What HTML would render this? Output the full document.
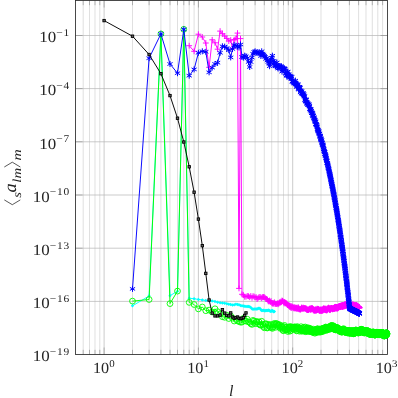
<!DOCTYPE html>
<html><head><meta charset="utf-8"><title>plot</title><style>html,body{margin:0;padding:0;background:#fff;}svg{display:block;will-change:transform;}.fs{text-rendering:geometricPrecision;font-family:"Liberation Serif",serif;}</style></head><body>
<svg width="398" height="398" viewBox="0 0 398 398">
<rect width="398" height="398" fill="#fff"/>
<defs>
<marker id="mb" markerUnits="userSpaceOnUse" markerWidth="8" markerHeight="8" refX="4" refY="4" viewBox="0 0 8 8"><path d="M4 1V7M1.4 2.5L6.6 5.5M1.4 5.5L6.6 2.5" stroke="#0000ff" stroke-width="1" fill="none"/></marker>
<marker id="mg" markerUnits="userSpaceOnUse" markerWidth="9" markerHeight="9" refX="4.5" refY="4.5" viewBox="0 0 9 9"><circle cx="4.5" cy="4.5" r="2.9" stroke="#00ff00" stroke-width="0.9" fill="none"/></marker>
<marker id="mm" markerUnits="userSpaceOnUse" markerWidth="8" markerHeight="8" refX="4" refY="4" viewBox="0 0 8 8"><path d="M4 1.1V6.9M1.1 4H6.9" stroke="#ff00ff" stroke-width="0.95" fill="none"/></marker>
<marker id="mk" markerUnits="userSpaceOnUse" markerWidth="6" markerHeight="6" refX="3" refY="3" viewBox="0 0 6 6"><rect x="1.8" y="1.8" width="2.4" height="2.4" stroke="#000" stroke-width="0.9" fill="#666"/></marker>
<marker id="mc" markerUnits="userSpaceOnUse" markerWidth="6" markerHeight="6" refX="3" refY="3" viewBox="0 0 6 6"><path d="M3 1.25L4.65 3L3 4.75L1.35 3Z" fill="#00ffff"/></marker>
</defs>
<path d="M83.2 0.5V354.5M89.5 0.5V354.5M95 0.5V354.5M99.8 0.5V354.5M132.5 0.5V354.5M149.1 0.5V354.5M160.9 0.5V354.5M170 0.5V354.5M177.5 0.5V354.5M183.8 0.5V354.5M189.2 0.5V354.5M194.1 0.5V354.5M226.8 0.5V354.5M243.4 0.5V354.5M255.1 0.5V354.5M264.3 0.5V354.5M271.7 0.5V354.5M278.1 0.5V354.5M283.5 0.5V354.5M288.3 0.5V354.5M321 0.5V354.5M337.6 0.5V354.5M349.4 0.5V354.5M358.6 0.5V354.5M366 0.5V354.5M372.3 0.5V354.5M377.8 0.5V354.5M382.6 0.5V354.5" stroke="#d2d2d2" stroke-width="0.7" fill="none"/>
<path d="M104.1 0.5V354.5M198.4 0.5V354.5M292.7 0.5V354.5M75.5 35.5H387.5M75.5 88.6H387.5M75.5 141.8H387.5M75.5 195H387.5M75.5 248.2H387.5M75.5 301.4H387.5" stroke="#b4b4b4" stroke-width="0.7" fill="none"/>
<path d="M83.2 0.5v4.7M83.2 354.5v-4.7M89.5 0.5v4.7M89.5 354.5v-4.7M95 0.5v4.7M95 354.5v-4.7M99.8 0.5v4.7M99.8 354.5v-4.7M132.5 0.5v4.7M132.5 354.5v-4.7M149.1 0.5v4.7M149.1 354.5v-4.7M160.9 0.5v4.7M160.9 354.5v-4.7M170 0.5v4.7M170 354.5v-4.7M177.5 0.5v4.7M177.5 354.5v-4.7M183.8 0.5v4.7M183.8 354.5v-4.7M189.2 0.5v4.7M189.2 354.5v-4.7M194.1 0.5v4.7M194.1 354.5v-4.7M226.8 0.5v4.7M226.8 354.5v-4.7M243.4 0.5v4.7M243.4 354.5v-4.7M255.1 0.5v4.7M255.1 354.5v-4.7M264.3 0.5v4.7M264.3 354.5v-4.7M271.7 0.5v4.7M271.7 354.5v-4.7M278.1 0.5v4.7M278.1 354.5v-4.7M283.5 0.5v4.7M283.5 354.5v-4.7M288.3 0.5v4.7M288.3 354.5v-4.7M321 0.5v4.7M321 354.5v-4.7M337.6 0.5v4.7M337.6 354.5v-4.7M349.4 0.5v4.7M349.4 354.5v-4.7M358.6 0.5v4.7M358.6 354.5v-4.7M366 0.5v4.7M366 354.5v-4.7M372.3 0.5v4.7M372.3 354.5v-4.7M377.8 0.5v4.7M377.8 354.5v-4.7M382.6 0.5v4.7M382.6 354.5v-4.7M104.1 0.5v7M104.1 354.5v-7M198.4 0.5v7M198.4 354.5v-7M292.7 0.5v7M292.7 354.5v-7M75.5 35.5h7M387.5 35.5h-7M75.5 88.6h7M387.5 88.6h-7M75.5 141.8h7M387.5 141.8h-7M75.5 195h7M387.5 195h-7M75.5 248.2h7M387.5 248.2h-7M75.5 301.4h7M387.5 301.4h-7" stroke="#7a7a7a" stroke-width="0.5" fill="none"/>
<rect x="75.5" y="0.5" width="312" height="354" fill="none" stroke="#2a2a2a" stroke-width="0.85"/>
<polyline points="132.5,305.8 149.1,296 160.9,33.9 170,295.7 177.5,291.2 183.8,29.3 189.2,298.2 194.1,298.8 198.4,299.4 202.3,299.9 205.8,300.5 209.1,300.8 212.2,301 215,301.4 217.6,302.2 220.1,302.7 222.4,302.9 224.7,303.2 226.8,303.8 228.8,304.2 230.7,304.5 232.5,304.9 234.2,304.7 235.9,304.3 237.5,304.4 239,304.7 240.5,305.5 242,305.8 243.4,306 244.7,306.3 246,306.4 247.3,306.5 248.5,306.5 249.7,306.8 250.8,307.6 252,308.7 253,309.2 254.1,309 255.1,309 256.2,309 257.1,309 258.1,308.6 259,308.2 260,308.6 260.9,309.7 261.7,310.5 262.6,310.4 263.5,310.3 264.3,310.7 265.1,310.7 265.9,310.5 266.7,310.5 267.4,310.4 268.2,310.2 268.9,310.3 269.6,310.7 270.4,311.2 271.1,311.3 271.7,310.8 272.4,310.6 273.1,311.2 273.7,311.7 274.4,311.5" fill="none" stroke="#00ffff" stroke-width="0.95" stroke-linejoin="round" marker-start="url(#mc)" marker-mid="url(#mc)" marker-end="url(#mc)"/>
<polyline points="132.5,301.1 149.1,299.5 160.9,33.9 170,303.6 177.5,291.1 183.8,29.3 189.2,302.4 194.1,304.5 198.4,308.9 202.3,307 205.8,310.7 209.1,310.1 212.2,312 215,308.8 217.6,311.7 220.1,313.9 222.4,316.7 224.7,317.3 226.8,315.3 228.8,318.5 230.7,316 232.5,318.1 234.2,321 235.9,319.4 237.5,320.7 239,321.5 240.5,322.2 242,322.1 243.4,318.4 244.7,320.7 246,321.1 247.3,319.2 248.5,321.9 249.7,322.4 250.8,323.7 252,324.4 253,320.4 254.1,321.1 255.1,323.6 256.2,321.5 257.1,321.9 258.1,323.8 259,321.8 260,324.9 260.9,325.2 261.7,321.3 262.6,324.3 263.5,326.5 264.3,327.8 265.1,324.1 265.9,323.7 266.7,327.7 267.4,328 268.2,324.3 268.9,325.4 269.6,326.5 270.4,327.3 271.1,324.5 271.7,327.6 272.4,328.4 273.1,327 273.7,324.5 274.4,323.4 275,324.5 275.6,327.3 276.3,323.5 276.9,323.9 277.5,326.2 278.1,324.7 278.6,325.2 279.2,324.6 279.8,327.4 280.3,328.4 280.9,327.1 281.4,325.7 282,326.8 282.5,328.3 283,330.3 283.5,330.7 284,326.7 284.5,325.4 285,329.5 285.5,329.9 286,327.4 286.5,328.9 287,330.1 287.4,329.4 287.9,331.5 288.3,327 288.8,328 289.2,327.7 289.7,326.8 290.1,331.1 290.6,326.7 291,330.3 291.4,327 291.8,328.4 292.2,328.6 292.7,327.2 293.1,328.8 293.5,328.6 293.9,327.3 294.3,329.5 294.7,326.8 295,327.2 295.4,328.3 295.8,328.3 296.2,327.3 296.6,330.9 296.9,330.3 297.3,326.6 297.7,328.2 298,327.7 298.4,329 298.7,328.1 299.1,329.1 299.4,331.2 299.8,328.2 300.1,329.5 300.5,329.3 300.8,330.2 301.1,326.7 301.5,330.2 301.8,331.3 302.1,329.7 302.4,328.2 302.8,330.2 303.1,330.5 303.4,330 303.7,327.3 304,331.1 304.3,330.7 304.6,328.2 304.9,329.3 305.3,327 305.6,331.7 305.8,331.2 306.1,330.5 306.4,331 306.7,328.3 307,328.8 307.3,328.4 307.6,330 307.9,327.8 308.2,331.5 308.4,329.6 308.7,329.6 309,328.1 309.3,330.7 309.5,331.3 309.8,330.5 310.1,328.9 310.3,331.2 310.6,328.6 310.9,331.6 311.1,330.7 311.4,329.6 311.6,330.6 311.9,331.2 312.2,329.8 312.4,332.2 312.7,330.4 312.9,332.4 313.2,332.1 313.4,329.2 313.7,331.5 313.9,330.3 314.1,332.2 314.4,331.5 314.6,331.4 314.9,333.2 315.1,330 315.3,331.8 315.6,330.8 315.8,329.5 316,332.1 316.3,331.2 316.5,332.3 316.7,331.1 317,330 317.2,332.3 317.4,329 317.6,328.7 317.8,331.1 318.1,329.8 318.3,329.8 318.5,331.7 318.7,329.8 318.9,331.9 319.2,331.1 319.4,330 319.6,329.1 319.8,329.7 320,332.2 320.2,330.2 320.4,329.3 320.6,329.8 320.8,331.7 321,329.2 321.2,331.2 321.4,329.1 321.7,331.7 321.9,330.3 322.1,328.6 322.3,331.5 322.4,329.6 322.6,330.7 322.8,330 323,328.6 323.2,328.6 323.4,328.7 323.6,328.7 323.8,328.4 324,328.3 324.2,330.9 324.4,328.1 324.6,329.2 324.8,327.9 324.9,328 325.1,329.5 325.3,329.8 325.5,328.3 325.7,327 325.9,330 326,327.3 326.2,328.4 326.4,328.9 326.6,330 326.8,329.9 326.9,329.3 327.1,328.7 327.3,329.8 327.5,329.8 327.6,329.7 327.8,329.1 328,327.1 328.2,327.6 328.3,328 328.5,327.9 328.7,328.9 328.8,327.1 329,328.4 329.2,327.5 329.4,328.7 329.5,327 329.7,327.8 329.8,326.7 330,327 330.2,329.1 330.3,327.1 330.5,328.7 330.7,327.5 330.8,326 331,328.1 331.1,325.8 331.3,328 331.5,325.5 331.6,327.4 331.8,325.9 331.9,326.4 332.1,328.2 332.3,326.8 332.4,327.2 332.6,327.4 332.7,325.6 332.9,327.7 333,327.9 333.2,325.9 333.3,327.2 333.5,326.6 333.6,328.1 333.8,326.2 333.9,327.8 334.1,328.9 334.2,328.9 334.4,327.2 334.5,329.5 334.7,327.8 334.8,329.5 335,328.6 335.1,327.6 335.3,329.3 335.4,329.5 335.5,329.2 335.7,330 335.8,328 336,328 336.1,327.7 336.3,328.8 336.4,328.4 336.5,328.3 336.7,328.6 336.8,328.1 337,327.3 337.1,328.7 337.2,328.1 337.4,328.6 337.5,330 337.6,327.9 337.8,329.2 337.9,329.3 338.1,328.3 338.2,328.8 338.3,330.3 338.5,328.6 338.6,329.7 338.7,330.1 338.9,328.7 339,330.6 339.1,329.6 339.2,329.4 339.4,330.1 339.5,329.4 339.6,330.4 339.8,329.2 339.9,331.2 340,330.2 340.2,329.5 340.3,330.2 340.4,331.6 340.5,331.4 340.7,330.5 340.8,330.2 340.9,330.3 341,332 341.2,329.5 341.3,331.8 341.4,331.7 341.5,329.9 341.7,330.3 341.8,330.9 341.9,331.6 342,332 342.2,332.1 342.3,330 342.4,329.6 342.5,330.4 342.6,330.5 342.8,330.7 342.9,329.1 343,330.5 343.1,331.2 343.2,331.2 343.4,331.2 343.5,331 343.6,331.2 343.7,328.7 343.8,331.3 344,329.6 344.1,329.8 344.2,330.3 344.3,331.8 344.4,330.9 344.5,330.3 344.7,330.5 344.8,332.1 344.9,332 345,330.1 345.1,330.5 345.2,330.8 345.3,330.4 345.4,331.4 345.6,330.5 345.7,331.5 345.8,332.5 345.9,332.3 346,330.2 346.1,330.5 346.2,331.1 346.3,331.8 346.5,331 346.6,330.7 346.7,331 346.8,330.6 346.9,332.5 347,332.1 347.1,331.3 347.2,332.1 347.3,331.7 347.4,331.7 347.5,331.3 347.6,331.7 347.8,333.1 347.9,332.6 348,332.7 348.1,330.7 348.2,331.8 348.3,331.5 348.4,330.7 348.5,331.6 348.6,330.7 348.7,331.2 348.8,332.8 348.9,332.5 349,332.5 349.1,330.8 349.2,331 349.3,330.6 349.4,330.8 349.5,330.8 349.6,333.2 349.7,333 349.8,331.1 349.9,331.2 350,333.2 350.1,332.1 350.2,331.5 350.3,331.8 350.4,331.3 350.5,332.2 350.6,332.5 350.7,332 350.8,332.8 350.9,330.8 351,332.2 351.1,333.3 351.2,330.9 351.3,331.9 351.4,332.3 351.5,331.5 351.6,333.2 351.7,331.9 351.8,331.8 351.9,333 352,330.5 352.1,332.9 352.2,330.9 352.3,331.5 352.4,331.8 352.5,331.8 352.6,330.6 352.7,331.4 352.8,331.6 352.9,333.3 353,333.2 353,332.4 353.1,333.4 353.2,333.2 353.3,331.9 353.4,331.2 353.5,332.6 353.6,331.9 353.7,331 353.8,333.8 353.9,333.8 354,332.6 354.1,332.8 354.2,332.9 354.2,333.5 354.3,332.2 354.4,332.4 354.5,331.3 354.6,331.3 354.7,332 354.8,331.1 354.9,330.5 355,331.3 355.1,332.3 355.1,330.9 355.2,332.4 355.3,331.9 355.4,331.7 355.5,332.3 355.6,330.1 355.7,330.4 355.8,332.4 355.9,332.4 355.9,330.2 356,332.1 356.1,330 356.2,330.4 356.3,330.4 356.4,330.9 356.5,331.2 356.5,332.6 356.6,331.4 356.7,330.5 356.8,331 356.9,330.2 357,330.3 357.1,331.5 357.1,331.7 357.2,331 357.3,331.4 357.4,330.6 357.5,332.2 357.6,331.4 357.6,330.8 357.7,331.8 357.8,331 357.9,331.2 358,330.8 358.1,332.6 358.1,331.2 358.2,333.1 358.3,331.6 358.4,330.9 358.5,332.4 358.6,332.4 358.6,332.8 358.7,330.7 358.8,332.5 358.9,332.7 359,331.1 359,331.5 359.1,331.9 359.2,330.8 359.3,332.5 359.4,332 359.4,332.4 359.5,331.3 359.6,331.4 359.7,330.5 359.8,330.8 359.8,331.9 359.9,332.5 360,330.3 360.1,329.9 360.2,329.9 360.2,330.9 360.3,331.8 360.4,330.2 360.5,330.8 360.6,330.9 360.6,331.7 360.7,329.9 360.8,329.4 360.9,330.8 360.9,330.3 361,330.1 361.1,331.4 361.2,331.2 361.3,329.5 361.3,330.8 361.4,331.4 361.5,331.7 361.6,329.3 361.6,331.5 361.7,329.5 361.8,331.3 361.9,331.1 361.9,332.1 362,331.2 362.1,329.8 362.2,331.4 362.2,330.3 362.3,331.9 362.4,329.8 362.5,330.6 362.5,331.6 362.6,330.3 362.7,331.6 362.8,331.8 362.8,331.9 362.9,332.3 363,331.1 363.1,330.4 363.1,330.8 363.2,331.1 363.3,330.3 363.3,332 363.4,330.3 363.5,330.3 363.6,332.7 363.6,332.4 363.7,330.9 363.8,331.2 363.9,332.5 363.9,331.9 364,331 364.1,331.5 364.1,332.6 364.2,330.4 364.3,333 364.4,331.9 364.4,330.9 364.5,332.6 364.6,330.6 364.6,331.5 364.7,332 364.8,331.1 364.8,332.8 364.9,332.3 365,330.9 365.1,330.8 365.1,330.6 365.2,331.9 365.3,330.9 365.3,331.9 365.4,332.6 365.5,332.8 365.5,330.7 365.6,331.3 365.7,331.5 365.8,331.4 365.8,331.5 365.9,331.6 366,332.4 366,331.2 366.1,331.3 366.2,331.5 366.2,330.8 366.3,332.1 366.4,331.5 366.4,332.9 366.5,332.6 366.6,331.1 366.6,331.1 366.7,332.6 366.8,332 366.8,330.5 366.9,332.2 367,331.5 367,332.6 367.1,332.5 367.2,333 367.2,332.4 367.3,332.9 367.4,331.3 367.4,331.4 367.5,330.7 367.6,332.9 367.6,331 367.7,332.1 367.8,332 367.8,332.9 367.9,331.8 368,331.2 368,331.9 368.1,331 368.2,331.7 368.2,332.6 368.3,331.1 368.3,333.7 368.4,332.5 368.5,331.9 368.5,333.4 368.6,331.5 368.7,332.1 368.7,333.7 368.8,331.9 368.9,333.3 368.9,331.6 369,332.8 369,333.2 369.1,332 369.2,332.4 369.2,333 369.3,333.1 369.4,332 369.4,332.7 369.5,334.3 369.6,332.6 369.6,333.8 369.7,332.3 369.7,333 369.8,333.2 369.9,333.5 369.9,333.8 370,334.1 370.1,333.9 370.1,334.2 370.2,334.4 370.2,333 370.3,334.3 370.4,333.5 370.4,332.9 370.5,332.7 370.5,334.3 370.6,333.9 370.7,332.4 370.7,333.7 370.8,332.3 370.8,333.2 370.9,333.6 371,333.8 371,332.5 371.1,332.2 371.1,333.6 371.2,334.2 371.3,334.1 371.3,332.9 371.4,333.5 371.4,333.9 371.5,334.2 371.6,333.2 371.6,334.2 371.7,332.7 371.7,332.4 371.8,332.6 371.9,333.7 371.9,334.1 372,333 372,333.6 372.1,332.1 372.2,333.1 372.2,332.9 372.3,332.9 372.3,332.3 372.4,333.4 372.5,333.6 372.5,333.5 372.6,333.8 372.6,333 372.7,334.1 372.7,333.4 372.8,334.2 372.9,332.9 372.9,333.7 373,332.4 373,332.1 373.1,334.3 373.1,332.9 373.2,332 373.3,333.5 373.3,334.4 373.4,333.9 373.4,334.5 373.5,334.4 373.5,333.2 373.6,332.6 373.7,332.2 373.7,332.8 373.8,333.7 373.8,334.5 373.9,332.1 373.9,334.3 374,334.2 374.1,334 374.1,332.6 374.2,332.4 374.2,334.2 374.3,334 374.3,333.3 374.4,333.3 374.4,332.5 374.5,335 374.6,334.6 374.6,335 374.7,334.6 374.7,333.7 374.8,334.8 374.8,333.1 374.9,334.4 374.9,333.3 375,333.7 375.1,334.9 375.1,333.7 375.2,334.9 375.2,334.1 375.3,333.3 375.3,333.2 375.4,332.5 375.4,334 375.5,334.6 375.5,333 375.6,333.7 375.6,334.9 375.7,333.4 375.8,334.8 375.8,334.5 375.9,333.6 375.9,333.9 376,332.4 376,333.6 376.1,334.2 376.1,332.8 376.2,332.3 376.2,332.2 376.3,332.5 376.3,332.7 376.4,334.2 376.5,333.3 376.5,333.4 376.6,332.9 376.6,332.8 376.7,333.5 376.7,334 376.8,332.5 376.8,333.2 376.9,333.7 376.9,334.5 377,332.8 377,333.1 377.1,333.5 377.1,332.4 377.2,333.7 377.2,334.6 377.3,332.8 377.3,333.3 377.4,332.4 377.4,333.4 377.5,334.6 377.5,333.5 377.6,332.6 377.6,332.9 377.7,333.7 377.8,334.3 377.8,333.3 377.9,333.4 377.9,334.2 378,332.4 378,334.6 378.1,333.3 378.1,333 378.2,334.2 378.2,332.8 378.3,332.6 378.3,332.9 378.4,333.9 378.4,332.5 378.5,333.4 378.5,332.8 378.6,333.6 378.6,332.6 378.7,334.3 378.7,334.7 378.8,333.1 378.8,333.2 378.9,333.9 378.9,334.2 379,332.5 379,334.1 379.1,334.4 379.1,334.4 379.2,333.5 379.2,334.5 379.3,333.8 379.3,332.9 379.4,333.2 379.4,334 379.5,333.9 379.5,334.5 379.6,334.3 379.6,333 379.7,333.5 379.7,334.4 379.8,333.6 379.8,333 379.8,334.8 379.9,333.6 379.9,333.2 380,333.7 380,333.2 380.1,333.1 380.1,334.1 380.2,334.4 380.2,333.4 380.3,332.8 380.3,333.6 380.4,333.4 380.4,333.5 380.5,333 380.5,334.3 380.6,332.9 380.6,332.4 380.7,334.1 380.7,334.2 380.8,332.9 380.8,332.8 380.9,333.8 380.9,334.7 381,333 381,333.7 381,333 381.1,334.2 381.1,333.5 381.2,333.3 381.2,334 381.3,333.7 381.3,332.8 381.4,333.4 381.4,334.7 381.5,334.3 381.5,333.6 381.6,334 381.6,332.7 381.7,333.4 381.7,334.6 381.8,332.8 381.8,334.8 381.8,334.5 381.9,334.1 381.9,333.3 382,332.5 382,333.1 382.1,334.2 382.1,333.4 382.2,334.4 382.2,332.9 382.3,334.4 382.3,334.5 382.4,334.2 382.4,332.8 382.4,332.9 382.5,332.5 382.5,332.5 382.6,334.3 382.6,333.7 382.7,334.4 382.7,333.2 382.8,333.4 382.8,334.9 382.9,335.2 382.9,332.9 382.9,334.7 383,334.2 383,332.8 383.1,334.4 383.1,333.6 383.2,333.8 383.2,335.4 383.3,334.9 383.3,333.2 383.3,334.8 383.4,333.2 383.4,335.4 383.5,334.7 383.5,334.9 383.6,333.4 383.6,333.6 383.7,334.7 383.7,334.4 383.7,335.5 383.8,334.2 383.8,334.6 383.9,333.9 383.9,334.9 384,336.1 384,334.4 384.1,335.7 384.1,334.1 384.1,335.9 384.2,334.9 384.2,333.9 384.3,335.6 384.3,335.8 384.4,333.9 384.4,333.8 384.5,334.2 384.5,334.8 384.5,335.9 384.6,335.6 384.6,334.3 384.7,333.5 384.7,334.9 384.8,334.8 384.8,334 384.8,334.9 384.9,335.8 384.9,333.7 385,334.1 385,335.4 385.1,333.7 385.1,333.6 385.1,333.7 385.2,335.1 385.2,333.5 385.3,333.4 385.3,334.7 385.4,335.1 385.4,335 385.4,334.2 385.5,335.4 385.5,333.4 385.6,334.1 385.6,333.9 385.7,334.4 385.7,333.5 385.7,333.3 385.8,335.4 385.8,333.7 385.9,334.1 385.9,335.2 385.9,333.6 386,333.7 386,334.2 386.1,332.9 386.1,332.8 386.2,334.3 386.2,333.6 386.2,332.9 386.3,333.4 386.3,334.4 386.4,334.5 386.4,333.9 386.4,333.1 386.5,334.6 386.5,333 386.6,334.4 386.6,332.9 386.7,334.8 386.7,334.4 386.7,333.7 386.8,333.5 386.8,333.8 386.9,334 386.9,333.7 386.9,334" fill="none" stroke="#00ff00" stroke-width="0.95" stroke-linejoin="round" marker-start="url(#mg)" marker-mid="url(#mg)" marker-end="url(#mg)"/>
<polyline points="189.2,45.7 194.1,51.3 198.4,34.2 202.3,37 205.8,43 209.1,67.3 212.2,39.8 215,42.8 217.6,49.2 220.1,31.1 222.4,33.7 224.7,36.1 226.8,38.4 228.8,41.1 230.7,40.1 232.5,48.6 234.2,39.6 235.9,38.6 237.5,33.1 239,288.4 240.5,38.6 242,294.3 243.4,295.1 244.7,296.8 246,296.7 247.3,296 248.5,296.2 249.7,297.2 250.8,296 252,297.8 253,296.2 254.1,296.5 255.1,297.5 256.2,297.2 257.1,299.1 258.1,297.9 259,297.1 260,297 260.9,297.4 261.7,298.2 262.6,297.1 263.5,297 264.3,297.2 265.1,297.8 265.9,298.8 266.7,298.9 267.4,299.7 268.2,301.2 268.9,301.5 269.6,300.5 270.4,302 271.1,301.1 271.7,302.9 272.4,303.6 273.1,303.4 273.7,303.6 274.4,302.3 275,303.9 275.6,303.7 276.3,303.8 276.9,304.1 277.5,303.3 278.1,304.3 278.6,303.4 279.2,303.3 279.8,302.1 280.3,302.7 280.9,301.6 281.4,302.2 282,300.5 282.5,300.9 283,301.4 283.5,302.1 284,303.3 284.5,302 285,303.4 285.5,302.6 286,303.4 286.5,303.4 287,303.7 287.4,304.8 287.9,305.1 288.3,305.2 288.8,306 289.2,305.4 289.7,307 290.1,305.8 290.6,307.5 291,306.1 291.4,307.9 291.8,306.5 292.2,306.7 292.7,307.1 293.1,308.3 293.5,307.5 293.9,307.6 294.3,308.4 294.7,307.2 295,308.3 295.4,308.1 295.8,307.6 296.2,309 296.6,307.9 296.9,307.7 297.3,308.5 297.7,308.8 298,307.6 298.4,307.4 298.7,309.2 299.1,308.5 299.4,309 299.8,309.1 300.1,309.9 300.5,308.9 300.8,309.3 301.1,308.6 301.5,307.5 301.8,308.3 302.1,309 302.4,308.4 302.8,308.2 303.1,307.5 303.4,308.8 303.7,308.2 304,308.1 304.3,308.2 304.6,308.4 304.9,308.4 305.3,308.4 305.6,308.9 305.8,308.2 306.1,308.6 306.4,309.1 306.7,310 307,309.2 307.3,309.4 307.6,310.1 307.9,310 308.2,309.9 308.4,309.8 308.7,309.8 309,309.1 309.3,309 309.5,308.7 309.8,308.7 310.1,309.6 310.3,309.5 310.6,308.3 310.9,309.8 311.1,308.9 311.4,309 311.6,308 311.9,309.4 312.2,308 312.4,308.4 312.7,309.1 312.9,309.3 313.2,309.5 313.4,310.5 313.7,308.9 313.9,310.2 314.1,309.7 314.4,310.5 314.6,310.3 314.9,310.6 315.1,310.7 315.3,310.5 315.6,309.2 315.8,309.9 316,310.3 316.3,310.3 316.5,310.5 316.7,309.5 317,308.7 317.2,310.1 317.4,309.2 317.6,310 317.8,308.8 318.1,309.4 318.3,310 318.5,309.1 318.7,309.5 318.9,309.2 319.2,310.7 319.4,310.5 319.6,310.3 319.8,310.1 320,311.1 320.2,309.8 320.4,310.7 320.6,309.6 320.8,310.6 321,309.8 321.2,309.4 321.4,311 321.7,309.7 321.9,311 322.1,310.3 322.3,310.2 322.4,310.1 322.6,310.6 322.8,309 323,310.4 323.2,309 323.4,308.5 323.6,310 323.8,308.3 324,309 324.2,309.7 324.4,308.7 324.6,309.6 324.8,309.5 324.9,309.6 325.1,308.6 325.3,309.7 325.5,310 325.7,308.7 325.9,310.2 326,310.2 326.2,309.1 326.4,310.3 326.6,310.3 326.8,308.7 326.9,309.9 327.1,310.3 327.3,309.9 327.5,308.5 327.6,308.9 327.8,309.1 328,308.6 328.2,308.5 328.3,307.9 328.5,307.6 328.7,308.2 328.8,308.6 329,308.9 329.2,309.8 329.4,308.2 329.5,308.8 329.7,309.9 329.8,309.9 330,308.6 330.2,309.5 330.3,308.3 330.5,309.8 330.7,308.4 330.8,309 331,308.6 331.1,308.6 331.3,307.9 331.5,308.1 331.6,307.9 331.8,308.6 331.9,308.2 332.1,308.6 332.3,308.5 332.4,308.8 332.6,309.4 332.7,308.6 332.9,308.6 333,308.8 333.2,308.6 333.3,308.3 333.5,307.9 333.6,308.4 333.8,307.8 333.9,308.6 334.1,308.9 334.2,308.7 334.4,308.7 334.5,307.5 334.7,307.1 334.8,307.4 335,308 335.1,307.1 335.3,307 335.4,308.7 335.5,307.4 335.7,306.8 335.8,307.6 336,307.9 336.1,307.5 336.3,306.9 336.4,307.7 336.5,306.9 336.7,308.2 336.8,308.6 337,307 337.1,308 337.2,308.6 337.4,308.3 337.5,307.4 337.6,307.1 337.8,307.7 337.9,306.8 338.1,308.2 338.2,307.4 338.3,306.9 338.5,307.7 338.6,306.5 338.7,306.9 338.9,306.8 339,305.9 339.1,307.2 339.2,306.9 339.4,305.9 339.5,306.3 339.6,306 339.8,307.2 339.9,306.6 340,307.1 340.2,306.7 340.3,306.7 340.4,305.8 340.5,306.8 340.7,305.8 340.8,306.7 340.9,306.5 341,306.1 341.2,305.5 341.3,306.3 341.4,306.3 341.5,306.4 341.7,305.3 341.8,305.6 341.9,306.2 342,306.7 342.2,305.6 342.3,306.8 342.4,306.9 342.5,305.2 342.6,306.4 342.8,305.8 342.9,305.3 343,305.4 343.1,305.7 343.2,305 343.4,306.3 343.5,305.8 343.6,305.5 343.7,306.4 343.8,306.6 344,305.6 344.1,305.2 344.2,305.7 344.3,305.3 344.4,306.2 344.5,305 344.7,304.7 344.8,304.4 344.9,304.6 345,304.4 345.1,305.9 345.2,305.5 345.3,305.2 345.4,305.9 345.6,305.2 345.7,305.3 345.8,304.2 345.9,304.4 346,305 346.1,305.4 346.2,304.3 346.3,304.5 346.5,304.2 346.6,304.2 346.7,304.7 346.8,305.4 346.9,305.6 347,304.8 347.1,303.9 347.2,304.4 347.3,305.1 347.4,305.7 347.5,304.2 347.6,305.6 347.8,305.7 347.9,304.2 348,305.8 348.1,305.2 348.2,305.7 348.3,305.3 348.4,305.3 348.5,305.7 348.6,305.5 348.7,304.8 348.8,304.7 348.9,305.8 349,304.4 349.1,304.7 349.2,304.2 349.3,304.6 349.4,305.1 349.5,304.4 349.6,304.9 349.7,305.3 349.8,305 349.9,305.7 350,305.4 350.1,305.1 350.2,305.9 350.3,305.6 350.4,305.5 350.5,305 350.6,306.6 350.7,305.2 350.8,305.6 350.9,306.1 351,306.8 351.1,305.5 351.2,305.1 351.3,306.2 351.4,306.6 351.5,305.6 351.6,306.6 351.7,305.3 351.8,306.3 351.9,304.6 352,305.8 352.1,306.2 352.2,305 352.3,306 352.4,305.5 352.5,304.9 352.6,304.4 352.7,305.6 352.8,305.1 352.9,305.4 353,304.8 353,304.5 353.1,304.7 353.2,305.8 353.3,304.8 353.4,305.2 353.5,305.8 353.6,305.2 353.7,305.6 353.8,305.5 353.9,306.2 354,305.6 354.1,305.3 354.2,306.7 354.2,305.1 354.3,306 354.4,306 354.5,305.4 354.6,306.2 354.7,306.2 354.8,305.7 354.9,305.4 355,305 355.1,306.4 355.1,306.6 355.2,305.3 355.3,305.4 355.4,306 355.5,306.3 355.6,306.5 355.7,306.3 355.8,306.2 355.9,306.1 355.9,305 356,305.9 356.1,306.3 356.2,305.6 356.3,305.5 356.4,305.8 356.5,306.1 356.5,305.1 356.6,306.5 356.7,306.4 356.8,305.5 356.9,305.6 357,305.5 357.1,306 357.1,307.1 357.2,306.1 357.3,307.2 357.4,305.9 357.5,306 357.6,306.6 357.6,306 357.7,306 357.8,307.2 357.9,306.6 358,307.4 358.1,306.6 358.1,306.8 358.2,308 358.3,307.5 358.4,306.7 358.5,307.3 358.6,306.8 358.6,306.8 358.7,307.8 358.8,307 358.9,307.2 359,307 359,307.2 359.1,307.9 359.2,307.4 359.3,307.7 359.4,308 359.4,307.6 359.5,307.5" fill="none" stroke="#ff00ff" stroke-width="0.95" stroke-linejoin="round" marker-start="url(#mm)" marker-mid="url(#mm)" marker-end="url(#mm)"/>
<polyline points="132.5,288.9 149.1,58.2 160.9,33.9 170,64 177.5,73.2 183.8,29.3 189.2,75.7 194.1,69.4 198.4,52.8 202.3,51.3 205.8,51.8 209.1,72.3 212.2,67.6 215,64 217.6,62.7 220.1,52.8 222.4,46.3 224.7,46.6 226.8,48.1 228.8,50.2 230.7,57.4 232.5,49 234.2,45.1 235.9,45.6 237.5,46.6 239,47.5 240.5,44.5 242,57 243.4,57.6 244.7,55.7 246,56.3 247.3,58.2 248.5,62 249.7,67 250.8,62 252,57.6 253,53.8 254.1,52 255.1,51.3 256.2,52.8 257.1,52.2 258.1,53.2 259,52.4 260,53.5 260.9,56 261.7,51.3 262.6,53.8 263.5,54.5 264.3,55.7 265.1,57 265.9,58.9 266.7,58 267.4,60.5 268.2,62 268.9,63.5 269.6,66.2 270.4,62 271.1,59.5 271.7,57.8 272.4,55.7 273.1,64.3 273.7,60.9 274.4,62.2 275,65.4 275.6,66.4 276.3,65.5 276.9,62.5 277.5,67.3 278.1,68.5 278.6,66.1 279.2,66.1 279.8,66.3 280.3,68.2 280.9,66.2 281.4,66.4 282,71.6 282.5,69.3 283,69.8 283.5,69.1 284,68.1 284.5,68.7 285,69.1 285.5,73.1 286,74 286.5,75.4 287,76 287.4,71.9 287.9,71.7 288.3,75.8 288.8,74.1 289.2,78 289.7,76.1 290.1,76.3 290.6,76.7 291,76.6 291.4,78.4 291.8,76.9 292.2,81.7 292.7,81.2 293.1,82 293.5,82.9 293.9,82 294.3,83.7 294.7,83.3 295,82.4 295.4,80.6 295.8,83.7 296.2,84.3 296.6,85.8 296.9,87 297.3,86.3 297.7,84.1 298,84.6 298.4,89 298.7,89.6 299.1,87.8 299.4,86.7 299.8,87.4 300.1,88 300.5,92.4 300.8,90.5 301.1,91.3 301.5,93.5 301.8,91.3 302.1,93.3 302.4,94 302.8,93.8 303.1,93 303.4,95 303.7,94.1 304,95.6 304.3,96.5 304.6,96.2 304.9,100.3 305.3,99.5 305.6,101.2 305.8,101.7 306.1,99.5 306.4,99.5 306.7,103.7 307,102.2 307.3,103.5 307.6,104.8 307.9,103.3 308.2,104.9 308.4,104.3 308.7,104.5 309,104.4 309.3,105.8 309.5,106.5 309.8,109.1 310.1,108.8 310.3,110.3 310.6,109.1 310.9,109.4 311.1,111.4 311.4,110.9 311.6,113.3 311.9,112.5 312.2,112.8 312.4,115.1 312.7,113.7 312.9,116.3 313.2,115.7 313.4,115.3 313.7,117.8 313.9,118.4 314.1,117.3 314.4,119.1 314.6,119.8 314.9,121.3 315.1,120.2 315.3,122 315.6,124.1 315.8,121.6 316,124.5 316.3,124 316.5,125 316.7,125.1 317,126.3 317.2,127.1 317.4,129 317.6,129.5 317.8,130.4 318.1,131.1 318.3,130.1 318.5,131.9 318.7,132.9 318.9,131.3 319.2,133.7 319.4,134 319.6,133.6 319.8,135.5 320,136.3 320.2,136.9 320.4,135.9 320.6,139 320.8,138.2 321,140 321.2,139.1 321.4,140.9 321.7,140.3 321.9,142.2 322.1,143.1 322.3,143.2 322.4,144.7 322.6,144.8 322.8,144.6 323,145.3 323.2,146.1 323.4,147.4 323.6,149.3 323.8,148.8 324,150.5 324.2,150.9 324.4,151.7 324.6,152.3 324.8,152.3 324.9,154.1 325.1,154.1 325.3,155.7 325.5,154.9 325.7,155.8 325.9,156.6 326,158.2 326.2,158.1 326.4,159.3 326.6,160.1 326.8,160.9 326.9,161.3 327.1,162.9 327.3,163 327.5,163.4 327.6,164.7 327.8,164.9 328,166.3 328.2,166.5 328.3,168.1 328.5,167.9 328.7,168.9 328.8,169.6 329,170.7 329.2,171.4 329.4,172.2 329.5,172.9 329.7,173.9 329.8,174.3 330,175.1 330.2,175.9 330.3,176.6 330.5,177.7 330.7,178.8 330.8,179.5 331,180.3 331.1,180.4 331.3,181.7 331.5,182 331.6,183.4 331.8,184.2 331.9,184.7 332.1,185.9 332.3,186.3 332.4,187.1 332.6,187.7 332.7,188.9 332.9,189.5 333,190.3 333.2,191 333.3,192.1 333.5,192.4 333.6,193.6 333.8,194 333.9,194.9 334.1,195.6 334.2,196.8 334.4,197.9 334.5,198.1 334.7,198.9 334.8,200 335,200.4 335.1,201.5 335.3,202.4 335.4,203 335.5,204.4 335.7,204.9 335.8,205.8 336,206.3 336.1,207.8 336.3,208 336.4,209.1 336.5,209.6 336.7,210.5 336.8,211.3 337,212.3 337.1,213 337.2,214.1 337.4,215 337.5,215.6 337.6,216.9 337.8,217.2 337.9,218.4 338.1,219.4 338.2,220.1 338.3,220.5 338.5,221.4 338.6,222.2 338.7,223.2 338.9,224.3 339,225.5 339.1,225.9 339.2,227.1 339.4,227.6 339.5,229 339.6,229.4 339.8,230.1 339.9,230.9 340,231.7 340.2,232.6 340.3,234.1 340.4,234.8 340.5,235.2 340.7,236.5 340.8,237.2 340.9,237.8 341,239.4 341.2,239.7 341.3,240.8 341.4,241.5 341.5,242.5 341.7,243.8 341.8,244.5 341.9,245 342,246.2 342.2,246.9 342.3,247.6 342.4,248.8 342.5,249.4 342.6,250.8 342.8,251.2 342.9,252 343,253.5 343.1,253.8 343.2,255.1 343.4,256.2 343.5,256.9 343.6,258 343.7,258.4 343.8,259.4 344,260.5 344.1,261 344.2,262.6 344.3,263.2 344.4,264.1 344.5,264.9 344.7,265.8 344.8,266.4 344.9,267.3 345,268.3 345.1,269 345.2,270.4 345.3,271 345.4,272.5 345.6,272.8 345.7,273.8 345.8,275.2 345.9,275.9 346,276.7 346.1,277.8 346.2,278.5 346.3,279.2 346.5,280.8 346.6,281.6 346.7,282.4 346.8,283 346.9,284.1 347,284.7 347.1,285.6 347.2,287.2 347.3,287.7 347.4,288.5 347.5,289.9 347.6,290.6 347.8,291.7 347.9,292.2 348,293.4 348.1,294.3 348.2,295.1 348.3,295.9 348.4,297.4 348.5,298.3 348.6,299.1 348.7,299.8 348.8,301 348.9,301.8 349,302.4 349.1,303.8 349.2,304.8 349.3,305.9 349.4,306.8 349.5,307.2 349.6,308.3 349.7,308.3 349.8,308.3 349.9,308.6 350,308.5 350.1,308.5 350.2,308.9 350.3,309.1 350.4,309.1 350.5,308.6 350.6,308.8 350.7,308.7 350.8,309 350.9,309.4 351,309 351.1,309.3 351.2,309.2 351.3,309.3 351.4,309.5 351.5,309.3 351.6,309.3 351.7,309.6 351.8,309.3 351.9,309.3 352,309.6 352.1,309.6 352.2,309.6 352.3,309.6 352.4,310 352.5,309.8 352.6,309.8 352.7,310.1 352.8,310.2 352.9,310.2 353,310.4 353,309.9 353.1,310.1 353.2,310.4 353.3,310.6 353.4,310.1 353.5,310.5 353.6,310.2 353.7,310.4 353.8,310.7 353.9,310.7 354,310.3 354.1,310.5 354.2,311 354.2,310.8 354.3,310.8 354.4,310.6 354.5,310.8 354.6,310.8 354.7,310.7 354.8,310.9 354.9,311.1 355,311.1 355.1,311.2 355.1,311.1 355.2,311.2 355.3,311.5 355.4,311.6 355.5,311.7 355.6,311.2 355.7,311.6 355.8,311.7 355.9,311.4 355.9,311.6 356,311.9 356.1,311.8 356.2,311.9 356.3,311.5 356.4,311.5 356.5,312 356.5,312 356.6,311.7 356.7,311.7 356.8,311.9 356.9,312.2 357,312.1 357.1,312.3 357.1,312 357.2,312.4 357.3,312.1 357.4,312.7 357.5,312.3 357.6,312.1 357.6,312.8 357.7,312.4 357.8,312.6 357.9,312.4 358,312.5 358.1,312.7 358.1,312.7 358.2,312.9 358.3,312.7 358.4,312.9 358.5,312.6 358.6,313 358.6,313.2 358.7,313.4 358.8,313.4 358.9,312.9 359,313.2 359,313.5 359.1,313.5 359.2,313.1 359.3,313.1 359.4,313.5 359.4,313.5 359.5,313.3" fill="none" stroke="#0000ff" stroke-width="0.95" stroke-linejoin="round" marker-start="url(#mb)" marker-mid="url(#mb)" marker-end="url(#mb)"/>
<polyline points="104.1,20.6 132.5,36.2 149.1,54.5 160.9,73.7 170,95.6 177.5,118.2 183.8,142 189.2,166.8 194.1,192.2 198.4,219.1 202.3,245.7 205.8,273.4 209.1,300 212.2,313.1 215,315.9 217.6,315.9 220.1,315.1 222.4,309.7 224.7,313.1 226.8,315.4 228.8,315.9 230.7,312.9 232.5,317 234.2,318.2 235.9,317.6 237.5,317 239,318.2 240.5,318.7 242,318.2 243.4,317.6 244.7,315.4 246,312.9" fill="none" stroke="#000000" stroke-width="0.95" stroke-linejoin="round" marker-start="url(#mk)" marker-mid="url(#mk)" marker-end="url(#mk)"/>
<text transform="translate(70.2,42.2) scale(1.1,1)" text-anchor="end" class="fs" font-size="15.4" fill="#262626">10<tspan font-size="10.4" dy="-6.3" letter-spacing="0.8">−1</tspan></text>
<text transform="translate(70.2,95.3) scale(1.1,1)" text-anchor="end" class="fs" font-size="15.4" fill="#262626">10<tspan font-size="10.4" dy="-6.3" letter-spacing="0.8">−4</tspan></text>
<text transform="translate(70.2,148.5) scale(1.1,1)" text-anchor="end" class="fs" font-size="15.4" fill="#262626">10<tspan font-size="10.4" dy="-6.3" letter-spacing="0.8">−7</tspan></text>
<text transform="translate(70.2,201.7) scale(1.1,1)" text-anchor="end" class="fs" font-size="15.4" fill="#262626">10<tspan font-size="10.4" dy="-6.3" letter-spacing="0.8">−10</tspan></text>
<text transform="translate(70.2,254.9) scale(1.1,1)" text-anchor="end" class="fs" font-size="15.4" fill="#262626">10<tspan font-size="10.4" dy="-6.3" letter-spacing="0.8">−13</tspan></text>
<text transform="translate(70.2,308.1) scale(1.1,1)" text-anchor="end" class="fs" font-size="15.4" fill="#262626">10<tspan font-size="10.4" dy="-6.3" letter-spacing="0.8">−16</tspan></text>
<text transform="translate(70.2,361.2) scale(1.1,1)" text-anchor="end" class="fs" font-size="15.4" fill="#262626">10<tspan font-size="10.4" dy="-6.3" letter-spacing="0.8">−19</tspan></text>
<text transform="translate(103.8,373.1) scale(1.05,1)" text-anchor="middle" class="fs" font-size="15.4" fill="#262626">10<tspan font-size="10.4" dy="-6.3" letter-spacing="0">0</tspan></text>
<text transform="translate(198.1,373.1) scale(1.05,1)" text-anchor="middle" class="fs" font-size="15.4" fill="#262626">10<tspan font-size="10.4" dy="-6.3" letter-spacing="0">1</tspan></text>
<text transform="translate(292.4,373.1) scale(1.05,1)" text-anchor="middle" class="fs" font-size="15.4" fill="#262626">10<tspan font-size="10.4" dy="-6.3" letter-spacing="0">2</tspan></text>
<text transform="translate(386.6,373.1) scale(1.05,1)" text-anchor="middle" class="fs" font-size="15.4" fill="#262626">10<tspan font-size="10.4" dy="-6.3" letter-spacing="0">3</tspan></text>
<text x="231.2" y="396.1" text-anchor="middle" class="fs" font-style="italic" font-size="16" fill="#262626">l</text>
<g transform="translate(15.1,205.5) rotate(-90)" class="fs" font-style="italic" fill="#222"><path d="M5.6 -10.8L0.8 -2.8L5.6 5.2" stroke="#222" stroke-width="0.75" fill="none"/><text transform="translate(7.8,5.6) scale(1.2,1)" font-size="12">s</text><text transform="translate(13,0.5) scale(1.05,1)" font-size="17.6">a</text><text transform="translate(22.8,5.6) scale(1.22,1)" font-size="12.2">lm</text><path d="M38.5 -10.8L43.3 -2.8L38.5 5.2" stroke="#222" stroke-width="0.75" fill="none"/><text transform="translate(44.9,5.6) scale(1.28,1)" font-size="12.2">m</text></g>
</svg>
</body></html>
